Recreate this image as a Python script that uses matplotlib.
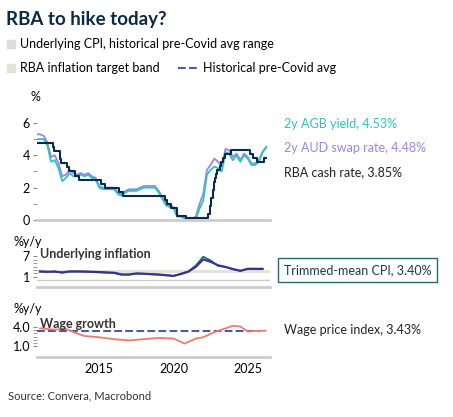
import matplotlib.pyplot as plt
import numpy as np
from matplotlib.patches import Rectangle
from matplotlib.lines import Line2D

plt.rcParams['font.family'] = ['Lato', 'DejaVu Sans']

# Data
yield_t = np.arange(2010.75, 2026.3, 0.25)
agb = [5.0, 5.0, 5.0, 4.6, 3.6, 3.7, 3.2, 2.4, 2.6, 2.9, 2.7, 2.7, 2.8, 2.7, 2.8, 2.6, 2.5,
       2.0, 1.9, 1.9, 1.9, 1.9, 1.6, 1.5, 1.7, 1.8, 1.8, 1.8, 1.9, 2.0, 2.0, 2.0, 2.0,
       1.7, 1.3, 0.9, 0.8, 0.7, 0.2, 0.25, 0.1, 0.1, 0.05, 0.05, 0.7, 1.2, 2.8, 3.1, 3.3,
       3.2, 3.0, 4.2, 4.1, 3.7, 4.0, 3.6, 4.0, 3.8, 3.4, 3.4, 3.6, 4.2, 4.53]
swap = [5.3, 5.3, 5.2, 4.8, 3.9, 4.0, 3.5, 2.7, 2.8, 3.1, 2.9, 2.8, 2.9, 2.8, 2.9, 2.7, 2.6,
        2.1, 2.0, 2.0, 2.0, 2.0, 1.7, 1.6, 1.8, 1.9, 1.9, 1.9, 2.0, 2.1, 2.1, 2.1, 2.1,
        1.8, 1.4, 1.0, 0.9, 0.8, 0.3, 0.2, 0.1, 0.1, 0.1, 0.2, 1.0, 1.6, 3.1, 3.4, 3.8,
        3.6, 3.3, 4.4, 4.3, 3.9, 4.1, 3.7, 4.1, 3.9, 3.5, 3.5, 3.7, 4.2, 4.48]
cash_t = [2010.9, 2011.85, 2011.93, 2012.35, 2012.45, 2012.8, 2012.93, 2013.35, 2013.6,
          2015.1, 2015.35, 2016.35, 2016.6, 2019.45, 2019.55, 2019.8, 2020.2, 2020.22,
          2020.85, 2022.35, 2022.45, 2022.55, 2022.63, 2022.7, 2022.77, 2022.85, 2022.93,
          2023.1, 2023.2, 2023.35, 2023.45, 2023.85, 2025.13, 2025.38, 2025.63, 2026.1, 2026.25]
cash = [4.75, 4.5, 4.25, 3.75, 3.5, 3.25, 3.0, 2.75, 2.5, 2.25, 2.0, 1.75, 1.5, 1.25, 1.0,
        0.75, 0.5, 0.25, 0.1, 0.35, 0.85, 1.35, 1.85, 2.35, 2.6, 2.85, 3.1, 3.35, 3.6, 3.85,
        4.1, 4.35, 4.1, 3.85, 3.6, 3.85, 3.85]

infl_t = np.arange(2011.0, 2026.3, 0.5)
trimmed = [2.5, 2.4, 2.6, 2.2, 2.5, 2.5, 2.6, 2.4, 2.3, 2.2, 2.1, 1.6, 1.6, 1.9, 1.9, 1.7,
           1.6, 1.4, 1.2, 1.9, 2.6, 4.3, 6.9, 5.8, 4.2, 3.9, 3.2, 2.7, 3.4, 3.40, 3.4]
median = [2.6, 2.5, 2.5, 2.3, 2.6, 2.6, 2.5, 2.5, 2.4, 2.3, 2.2, 1.7, 1.7, 2.0, 1.9, 1.8,
          1.7, 1.5, 1.3, 1.8, 2.5, 3.9, 6.1, 5.4, 4.4, 3.9, 3.3, 2.8, 3.3, 3.3, 3.3]

wage_t = [2011.0, 2012.0, 2012.75, 2013.5, 2014.0, 2015.0, 2016.0, 2017.0, 2018.0, 2019.0,
          2020.0, 2020.75, 2021.5, 2022.0, 2022.75, 2023.5, 2024.0, 2024.5, 2025.0, 2025.5, 2026.2]
wage = [3.8, 3.6, 3.7, 3.0, 2.6, 2.4, 2.1, 1.9, 2.1, 2.3, 2.2, 1.4, 2.2, 2.4, 3.2, 3.8, 4.2,
        4.1, 3.3, 3.4, 3.43]
wage_avg = 3.35

navy = '#0b2a4a'
teal = '#2ec4b6'
lilac = '#9c83f0'

fig = plt.figure(figsize=(4.53, 4.17), dpi=100)
W, H = 453, 417
def ax_at(l, t, r, b):
    return fig.add_axes([l / W, 1 - b / H, (r - l) / W, (b - t) / H])

fs = 9
fig.text(6 / W, 1 - 20 / H, 'RBA to hike today?', fontsize=13.5, fontweight='bold', color=navy, va='center')
fig.patches.append(Rectangle((7 / W, 1 - 48 / H), 8 / W, 8 / H, color='#dcdcdc', transform=fig.transFigure))
fig.text(20 / W, 1 - 44 / H, 'Underlying CPI, historical pre-Covid avg range', fontsize=fs, va='center')
fig.patches.append(Rectangle((7 / W, 1 - 72 / H), 8 / W, 8 / H, color='#e6e3d6', transform=fig.transFigure))
fig.text(20 / W, 1 - 68 / H, 'RBA inflation target band', fontsize=fs, va='center')
fig.lines.append(Line2D([178 / W, 198 / W], [1 - 68 / H] * 2, ls='--', color='#4a5d9a', lw=1.5, transform=fig.transFigure))
fig.text(203 / W, 1 - 68 / H, 'Historical pre-Covid avg', fontsize=fs, va='center')

def style(ax):
    for s in ['top', 'right', 'left']:
        ax.spines[s].set_visible(False)
    ax.spines['bottom'].set_color('#cccccc')
    ax.spines['bottom'].set_linewidth(2)
    ax.set_xlim(2010.8, 2026.5)
    ax.tick_params(axis='y', length=3, color='#888888', labelsize=fs, pad=2)
    ax.tick_params(axis='y', which='minor', length=3, color='#888888')
    ax.tick_params(axis='x', length=0)

ax1 = ax_at(37, 110, 270, 220)
ax1.plot(yield_t, swap, color=lilac, lw=1.3)
ax1.plot(yield_t, agb, color=teal, lw=1.3)
ax1.step(cash_t, cash, where='post', color=navy, lw=1.5)
ax1.set_ylim(0, 6.8)
ax1.set_yticks([0, 2, 4, 6])
ax1.set_yticks([1, 3, 5], minor=True)
ax1.set_xticklabels([])
style(ax1)
fig.text(30 / W, 1 - 97 / H, '%', fontsize=fs, va='center')
fig.text(284 / W, 1 - 124 / H, '2y AGB yield, 4.53%', color=teal, fontsize=fs, va='center')
fig.text(284 / W, 1 - 148 / H, '2y AUD swap rate, 4.48%', color=lilac, fontsize=fs, va='center')
fig.text(284 / W, 1 - 172 / H, 'RBA cash rate, 3.85%', color='#222222', fontsize=fs, va='center')

ax2 = ax_at(37, 253, 270, 287)
ax2.axhspan(2, 3, color='#e6e3d6', lw=0)
ax2.axhline(0, color='#cccccc', lw=1)
ax2.plot(infl_t, trimmed, color='#1f6e6e', lw=1.3)
ax2.plot(infl_t, median, color='#3b2f8f', lw=1.5)
ax2.set_ylim(-2, 8)
ax2.set_yticks([1, 7])
ax2.set_yticks([2, 3, 4, 5, 6], minor=True)
ax2.set_xticklabels([])
style(ax2)
ax2.text(2011.0, 7.6, 'Underlying inflation', fontsize=fs, fontweight='bold', color='#333333', va='center')
fig.text(14 / W, 1 - 242 / H, '%y/y', fontsize=fs, va='center')
fig.text(284 / W, 1 - 270 / H, 'Trimmed-mean CPI, 3.40%', fontsize=fs, color='#1a3a4a', va='center',
         bbox=dict(boxstyle='square,pad=0.45', fc='white', ec='#1f6e6e', lw=1))

ax3 = ax_at(37, 322, 270, 357)
ax3.axhline(wage_avg, color='#4a5d9a', ls='--', lw=1.5, xmax=0.955)
ax3.plot(wage_t, wage, color='#ee7a6f', lw=1.3)
ax3.set_ylim(-0.7, 4.8)
ax3.set_yticks([1.0, 4.0])
ax3.set_yticklabels(['1.0', '4.0'])
ax3.set_yticks([1.5, 2.0, 2.5, 3.0, 3.5], minor=True)
ax3.set_xticks([2015, 2020, 2025])
ax3.tick_params(axis='x', labelsize=fs, pad=4)
style(ax3)
ax3.text(2011.0, 4.45, 'Wage growth', fontsize=fs, fontweight='bold', color='#333333', va='center')
fig.text(14 / W, 1 - 309 / H, '%y/y', fontsize=fs, va='center')
fig.text(284 / W, 1 - 330 / H, 'Wage price index, 3.43%', fontsize=fs, color='#222222', va='center')

fig.text(8 / W, 1 - 396 / H, 'Source: Convera, Macrobond', fontsize=8, color='#333333', va='center')

fig.savefig('out.png', dpi=100)
